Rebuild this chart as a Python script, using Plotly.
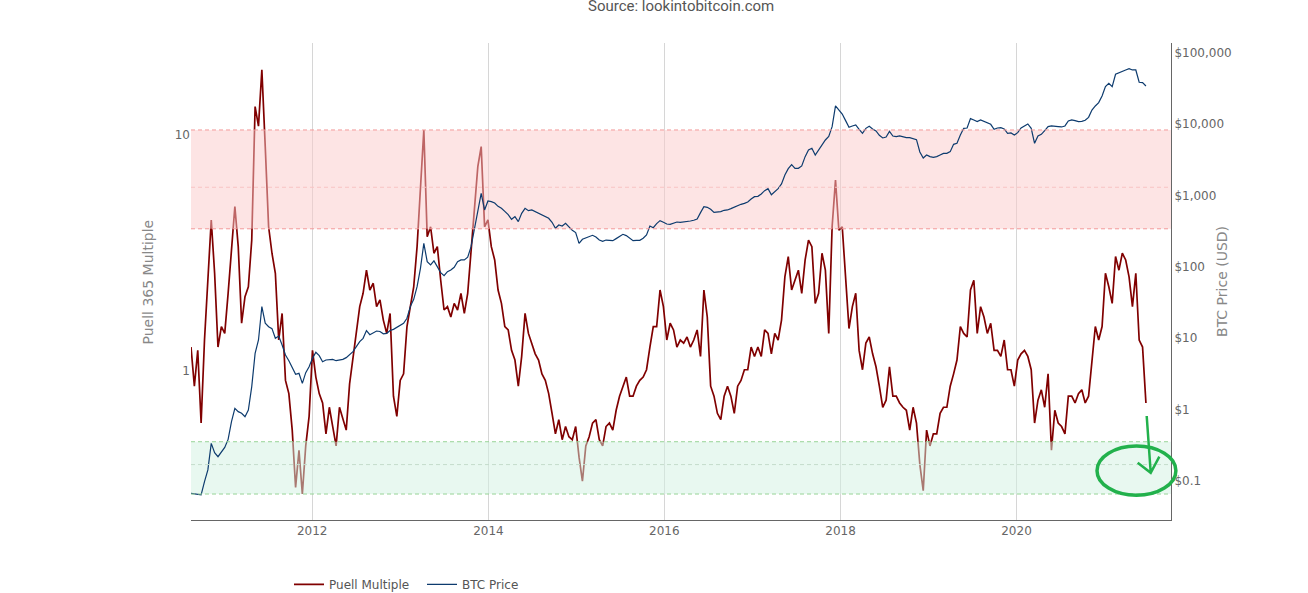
import plotly.graph_objects as go
import pandas as pd

# Puell Multiple vs BTC price
# one sample every 14 days starting mid-August 2010
start_date = "2010-08-16"
step = "14D"

puell_multiple = [
    1.26, 0.86, 1.22, 0.60, 1.35, 2.42, 4.36, 2.59, 1.26, 1.54,
    1.44, 2.13, 3.36, 4.97, 3.36, 1.59, 2.06, 2.27, 3.58, 13.2,
    10.9, 18.9, 8.92, 4.08, 3.15, 2.59, 1.35, 1.75, 0.91, 0.80,
    0.56, 0.32, 0.46, 0.30, 0.48, 0.64, 1.22, 0.94, 0.80, 0.73,
    0.54, 0.70, 0.58, 0.48, 0.70, 0.62, 0.56, 0.88, 1.15, 1.44,
    1.87, 2.13, 2.67, 2.20, 2.35, 1.87, 2.00, 1.64, 1.44, 1.75,
    0.78, 0.64, 0.91, 0.97, 1.54, 1.87, 2.27, 3.36, 5.66, 10.5,
    3.70, 4.08, 3.15, 3.36, 2.42, 1.81, 1.87, 1.69, 1.93, 1.81,
    2.13, 1.75, 2.13, 3.15, 4.97, 7.34, 8.92, 4.08, 4.36, 3.36,
    2.95, 2.20, 1.93, 1.54, 1.49, 1.22, 1.11, 0.86, 1.15, 1.75,
    1.44, 1.31, 1.18, 1.11, 0.97, 0.91, 0.80, 0.66, 0.54, 0.62,
    0.51, 0.58, 0.525, 0.51, 0.58, 0.43, 0.34, 0.48, 0.525, 0.60,
    0.62, 0.51, 0.48, 0.58, 0.60, 0.56, 0.68, 0.78, 0.86, 0.94,
    0.78, 0.78, 0.86, 0.91, 0.94, 1.01, 1.26, 1.54, 1.54, 2.20,
    1.87, 1.35, 1.59, 1.49, 1.26, 1.35, 1.31, 1.39, 1.26, 1.35,
    1.49, 1.15, 2.20, 1.69, 0.86, 0.78, 0.66, 0.62, 0.78, 0.86,
    0.78, 0.66, 0.86, 0.91, 1.01, 1.01, 1.26, 1.15, 1.26, 1.15,
    1.49, 1.44, 1.18, 1.44, 1.35, 1.64, 2.50, 3.05, 2.20, 2.42,
    2.67, 2.13, 2.95, 3.58, 3.36, 1.93, 2.13, 3.15, 2.67, 1.44,
    4.08, 6.44, 3.95, 4.08, 2.55, 1.51, 1.87, 2.13, 1.22, 1.01,
    1.31, 1.39, 1.18, 1.04, 0.86, 0.70, 0.75, 1.04, 0.78, 0.78,
    0.73, 0.70, 0.68, 0.56, 0.70, 0.60, 0.40, 0.31, 0.56, 0.48,
    0.54, 0.54, 0.66, 0.70, 0.70, 0.86, 0.97, 1.11, 1.54, 1.44,
    1.39, 2.20, 2.42, 1.44, 1.87, 1.69, 1.44, 1.59, 1.22, 1.22,
    1.15, 1.35, 1.01, 1.01, 0.86, 1.11, 1.18, 1.22, 1.15, 1.01,
    0.60, 0.75, 0.83, 0.70, 0.97, 0.46, 0.68, 0.60, 0.58, 0.54,
    0.78, 0.78, 0.73, 0.80, 0.83, 0.73, 0.78, 1.11, 1.54, 1.35,
    1.54, 2.59, 2.27, 1.93, 3.05, 2.67, 3.15, 2.95, 2.50, 1.87,
    2.59, 1.35, 1.26, 0.73,
]

btc_price = [
    0.067, 0.066, 0.064, 0.064, 0.098, 0.143, 0.337, 0.249, 0.219, 0.252,
    0.296, 0.383, 0.678, 1.04, 0.936, 0.887, 0.796, 0.987, 2.10, 6.14,
    9.44, 27.7, 16.2, 14.5, 13.6, 9.96, 10.7, 8.04, 5.82, 4.84,
    3.78, 3.12, 3.22, 2.33, 3.29, 3.99, 5.22, 6.34, 5.69, 4.69,
    4.95, 4.95, 5.06, 4.84, 4.95, 5.06, 5.34, 5.82, 6.48, 7.61,
    8.94, 9.96, 12.8, 11.2, 11.9, 12.6, 12.4, 11.5, 11.7, 12.8,
    13.3, 14.2, 15.3, 16.2, 19.0, 27.7, 35.0, 52.7, 95.2, 213,
    118, 106, 121, 100, 82.8, 75.2, 85.5, 90.2, 98.4, 118,
    125, 125, 136, 191, 335, 659, 1069, 625, 835, 817,
    783, 703, 659, 598, 537, 462, 504, 429, 561, 659,
    611, 625, 592, 561, 532, 504, 478, 420, 346, 385,
    373, 406, 361, 324, 301, 213, 243, 253, 267, 276,
    261, 237, 227, 237, 235, 232, 248, 270, 285, 273,
    253, 232, 235, 235, 251, 279, 373, 353, 402, 443,
    420, 397, 393, 410, 424, 420, 424, 429, 438, 448,
    467, 573, 695, 681, 638, 579, 585, 592, 618, 625,
    652, 689, 726, 750, 774, 809, 891, 960, 971, 1047,
    1165, 1243, 1023, 1117, 1243, 1445, 1932, 2367, 2692, 2393,
    2393, 2582, 3486, 4323, 4560, 3680, 4323, 5080, 5970, 6715,
    9180, 17870, 15880, 13800, 11140, 8980, 9380, 9680, 8420, 7400,
    8690, 9270, 8510, 7980, 6940, 6370, 6580, 7890, 6790, 6650,
    6790, 6580, 6440, 6440, 6300, 6040, 4060, 3340, 3680, 3486,
    3410, 3486, 3680, 3880, 3880, 4100, 5190, 5360, 7010, 8690,
    8790, 11880, 11380, 10790, 11380, 10790, 10210, 9890, 8420, 8790,
    8890, 8510, 7400, 7480, 7010, 7560, 8790, 9380, 10000, 8690,
    5360, 6790, 7160, 8070, 9180, 9380, 9380, 9180, 9080, 9380,
    11010, 11380, 11140, 10790, 10890, 11250, 12390, 15700, 17870, 19900,
    24660, 33340, 37150, 33340, 49660, 52400, 54700, 57050, 59600, 57050,
    57050, 38370, 37950, 34070,
]

dates = pd.date_range(start_date, periods=len(puell_multiple), freq=step)

# shaded bands on the Puell axis (low, mid, high)
red_band = [4.0, 6.0, 10.5]
green_band = [0.3, 0.4, 0.5]

x_range = ["2010-08-16", "2021-10-03"]

puell_ticks = [1, 10]
price_ticks = [0.1, 1, 10, 100, 1000, 10000, 100000]
price_labels = ["$0.1", "$1", "$10", "$100", "$1,000", "$10,000", "$100,000"]

FONT = "DejaVu Sans"

fig = go.Figure()

fig.add_trace(go.Scatter(x=dates, y=puell_multiple, mode="lines", name="Puell Multiple",
                         line=dict(color="#800000", width=1.7)))

# bands drawn as fills over the Puell line but under the price line (y2 sits on top)
def band(levels, fillcolor):
    lo, hi = levels[0], levels[-1]
    return go.Scatter(x=[x_range[0], x_range[1], x_range[1], x_range[0]],
                      y=[lo, lo, hi, hi], mode="lines", fill="toself",
                      fillcolor=fillcolor, line=dict(width=0),
                      showlegend=False, hoverinfo="skip")

fig.add_trace(band(red_band, "rgba(251,201,201,0.5)"))
fig.add_trace(band(green_band, "rgba(209,241,225,0.5)"))

fig.add_trace(go.Scatter(x=dates, y=btc_price, mode="lines", name="BTC Price",
                         yaxis="y2", line=dict(color="#0d3b6e", width=1.2)))

# dashed band edges
shapes = []
for levels, edge, mid in [(red_band, "#f39a9a", "#f8c4c4"),
                          (green_band, "#98d498", "#c4dccb")]:
    for k, lv in enumerate(levels):
        shapes.append(dict(type="line", xref="paper", yref="y", x0=0, x1=1, y0=lv, y1=lv,
                           layer="above",
                           line=dict(color=mid if k == 1 else edge, width=1, dash="4px,3px")))

# hand drawn green circle + arrow
green = "#22b14c"
shapes.append(dict(type="circle", xref="paper", yref="paper",
                   x0=0.9245, x1=1.005, y0=0.052, y1=0.155,
                   line=dict(color=green, width=3.5)))
shapes.append(dict(type="path", xref="paper", yref="paper",
                   path="M 0.9752 0.218 L 0.9793 0.099 M 0.966 0.120 L 0.9793 0.099 L 0.9881 0.133",
                   line=dict(color=green, width=2.5)))

fig.update_layout(
    width=1308, height=593,
    margin=dict(l=191, r=137, t=43, b=73),
    paper_bgcolor="white", plot_bgcolor="white",
    font=dict(family=FONT, size=12, color="#666"),
    shapes=shapes,
    showlegend=True,
    # container ref so the legend does not push the bottom margin
    legend=dict(orientation="h", xref="paper", x=0.1, yref="container", y=0.039,
                yanchor="top", entrywidth=88,
                font=dict(family=FONT, size=12, color="#555")),
    xaxis=dict(type="date", range=x_range, dtick="M24", tick0="2012-01-01", tickformat="%Y",
               showgrid=True, gridcolor="#d6d6d6", gridwidth=1, zeroline=False,
               showline=True, linecolor="#666", linewidth=1, ticks="",
               tickfont=dict(family=FONT, size=12, color="#666")),
    yaxis=dict(type="log", range=[-0.633, 1.39], tickvals=puell_ticks,
               showgrid=False, zeroline=False, showline=False, ticks="",
               tickfont=dict(family=FONT, size=12, color="#666")),
    yaxis2=dict(type="log", overlaying="y", side="right", range=[-1.546, 5.134],
                tickvals=price_ticks, ticktext=price_labels,
                showgrid=False, zeroline=False, showline=True, linecolor="#666",
                linewidth=1, ticks="",
                tickfont=dict(family=FONT, size=12, color="#666")),
    annotations=[
        dict(text="Source: lookintobitcoin.com", xref="paper", yref="paper",
             x=0.5, y=1.077, xanchor="center", yanchor="middle", showarrow=False,
             font=dict(family="Roboto", size=15, color="#555")),
        dict(text="Puell 365 Multiple", xref="paper", yref="paper", x=-0.0439, y=0.5,
             textangle=-90, showarrow=False, xanchor="center", yanchor="middle",
             font=dict(family=FONT, size=14, color="#888")),
        dict(text="BTC Price (USD)", xref="paper", yref="paper", x=1.0515, y=0.5,
             textangle=-90, showarrow=False, xanchor="center", yanchor="middle",
             font=dict(family=FONT, size=14, color="#888")),
    ],
)

# drop the page's default body margin so the figure sits at the window corner
fig.write_html("out.html", config={"displayModeBar": False},
               post_script="document.body.style.margin = '0';")
